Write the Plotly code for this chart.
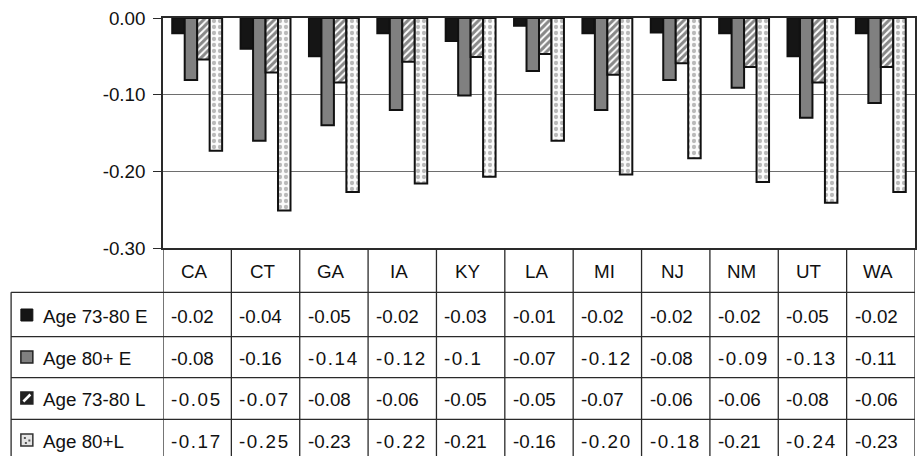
import plotly.graph_objects as go

# ---------------- data ----------------
states = ["CA", "CT", "GA", "IA", "KY", "LA", "MI", "NJ", "NM", "UT", "WA"]
series_names = ["Age 73-80 E", "Age 80+ E", "Age 73-80 L", "Age 80+L"]

age7380_e = [-0.020, -0.040, -0.050, -0.020, -0.030, -0.010, -0.020, -0.019, -0.020, -0.050, -0.020]
age80_e = [-0.081, -0.160, -0.140, -0.120, -0.101, -0.069, -0.120, -0.081, -0.091, -0.130, -0.111]
age7380_l = [-0.054, -0.071, -0.084, -0.057, -0.051, -0.047, -0.074, -0.059, -0.064, -0.084, -0.064]
age80_l = [-0.173, -0.251, -0.227, -0.216, -0.207, -0.160, -0.204, -0.183, -0.214, -0.241, -0.227]

# table text as printed (some cells are letter-spaced in the original)
tbl_7380_e = ["-0.02", "-0.04", "-0.05", "-0.02", "-0.03", "-0.01", "-0.02", "-0.02", "-0.02", "-0.05", "-0.02"]
tbl_80_e = ["-0.08", "-0.16", "-0.14", "-0.12", "-0.1", "-0.07", "-0.12", "-0.08", "-0.09", "-0.13", "-0.11"]
tbl_7380_l = ["-0.05", "-0.07", "-0.08", "-0.06", "-0.05", "-0.05", "-0.07", "-0.06", "-0.06", "-0.08", "-0.06"]
tbl_80_l = ["-0.17", "-0.25", "-0.23", "-0.22", "-0.21", "-0.16", "-0.20", "-0.18", "-0.21", "-0.24", "-0.23"]
spaced_80_e = [2, 3, 4, 6, 8, 9]
spaced_7380_l = [0, 1]
spaced_80_l = [0, 1, 3, 6, 7, 9]

y_tickvals = [0.0, -0.1, -0.2, -0.3]
y_ticktext = ["0.00", "-0.10", "-0.20", "-0.30"]

# ---------------- layout helpers ----------------
W, H = 920, 456
ML, MR, MT, MB = 163, 3, 18, 208
PW, PH = W - ML - MR, H - MT - MB
FONT = "Liberation Sans, Arial, sans-serif"
FS = 18.8
LINE = "#2a2a2a"


def pxx(p):
    return (p - ML) / PW


def pxy(p):
    return (MT + PH - p) / PH


def spaced(s):
    return "\u200a".join(list(s))


fig = go.Figure()

OUT = dict(color="#111", width=2)
fig.add_trace(go.Bar(x=states, y=age7380_e, name=series_names[0],
                     marker=dict(color="#151515", line=OUT)))
fig.add_trace(go.Bar(x=states, y=age80_e, name=series_names[1],
                     marker=dict(color="#808080", line=OUT)))
fig.add_trace(go.Bar(x=states, y=age7380_l, name=series_names[2],
                     marker=dict(color="white", line=OUT,
                                 pattern=dict(shape="/", fgcolor="#111", bgcolor="white",
                                              size=5, solidity=0.6))))
fig.add_trace(go.Bar(x=states, y=age80_l, name=series_names[3],
                     marker=dict(color="white", line=OUT,
                                 pattern=dict(shape=".", fgcolor="#777", bgcolor="#fbfbfb",
                                              size=6, solidity=0.4))))

shapes = []
annotations = []

# table geometry (pixels)
row_lines = [292.3, 336.7, 377.7, 419.3]
row_centers = [316.0, 358.0, 399.0, 441.0]
header_center = 271.0
table_bottom = 462
table_left = 10.7

# vertical column lines below plot
for k in range(len(states) + 1):
    shapes.append(dict(type="line", xref="x", yref="paper", x0=k - 0.5, x1=k - 0.5,
                       y0=pxy(248), y1=pxy(table_bottom), line=dict(color=LINE, width=1.3)))
# left border of legend column
shapes.append(dict(type="line", xref="paper", yref="paper", x0=pxx(table_left), x1=pxx(table_left),
                   y0=pxy(row_lines[0]), y1=pxy(table_bottom), line=dict(color=LINE, width=1.3)))
# horizontal row lines
for r in row_lines:
    shapes.append(dict(type="line", xref="paper", yref="paper", x0=pxx(table_left), x1=1,
                       y0=pxy(r), y1=pxy(r), line=dict(color=LINE, width=1.3)))

# header labels
for i, s in enumerate(states):
    annotations.append(dict(x=i, y=pxy(header_center), xref="x", yref="paper", text=s,
                            showarrow=False, xanchor="center", yanchor="middle",
                            xshift=-3, font=dict(family=FONT, size=FS, color="#111")))

# table values
rows = [(tbl_7380_e, []), (tbl_80_e, spaced_80_e), (tbl_7380_l, spaced_7380_l), (tbl_80_l, spaced_80_l)]
for ri, (vals, sp) in enumerate(rows):
    for i, v in enumerate(vals):
        txt = spaced(v) if i in sp else v
        annotations.append(dict(x=i - 0.5, y=pxy(row_centers[ri]), xref="x", yref="paper", text=txt,
                                showarrow=False, xanchor="left", yanchor="middle", xshift=6,
                                font=dict(family=FONT, size=FS, color="#111")))
    annotations.append(dict(x=pxx(41), y=pxy(row_centers[ri]), xref="paper", yref="paper",
                            text=series_names[ri], showarrow=False, xanchor="left", yanchor="middle",
                            font=dict(family=FONT, size=FS, color="#111")))

# legend keys
for ri in range(4):
    cy = row_centers[ri] - 1
    x0, x1 = 20.5, 32.5
    y0, y1 = cy - 6, cy + 6
    if ri == 0:
        shapes.append(dict(type="rect", xref="paper", yref="paper", x0=pxx(x0), x1=pxx(x1),
                           y0=pxy(y1), y1=pxy(y0), fillcolor="#151515", line=dict(color="#111", width=1)))
    elif ri == 1:
        shapes.append(dict(type="rect", xref="paper", yref="paper", x0=pxx(x0), x1=pxx(x1),
                           y0=pxy(y1), y1=pxy(y0), fillcolor="#808080", line=dict(color="#222", width=1.5)))
    elif ri == 2:
        shapes.append(dict(type="rect", xref="paper", yref="paper", x0=pxx(x0), x1=pxx(x1),
                           y0=pxy(y1), y1=pxy(y0), fillcolor="#222", line=dict(color="#222", width=1.5)))
        shapes.append(dict(type="path", xref="paper", yref="paper",
                           path="M %f,%f L %f,%f" % (pxx(x0 + 2.5), pxy(y1 - 2.5), pxx(x1 - 2.5), pxy(y0 + 2.5)),
                           line=dict(color="white", width=2.5)))
    else:
        shapes.append(dict(type="rect", xref="paper", yref="paper", x0=pxx(x0), x1=pxx(x1),
                           y0=pxy(y1), y1=pxy(y0), fillcolor="#e4e4e4", line=dict(color="#333", width=1.5)))
        for (dx, dy) in [(3, 3), (7.5, 5.5), (4, 8)]:
            shapes.append(dict(type="rect", xref="paper", yref="paper",
                               x0=pxx(x0 + dx), x1=pxx(x0 + dx + 2), y0=pxy(y0 + dy + 2), y1=pxy(y0 + dy),
                               fillcolor="#555", line=dict(width=0)))

fig.update_layout(
    width=W, height=H,
    margin=dict(l=ML, r=MR, t=MT, b=MB),
    paper_bgcolor="white", plot_bgcolor="white",
    barmode="group", bargap=0.27, bargroupgap=0,
    showlegend=False,
    font=dict(family=FONT, size=FS, color="#111"),
    shapes=shapes, annotations=annotations,
)
fig.update_xaxes(range=[-0.5, len(states) - 0.5], showticklabels=False, ticks="",
                 showline=True, linecolor=LINE, linewidth=1.6, mirror=True, showgrid=False)
fig.update_yaxes(range=[-0.3, 0], tickvals=y_tickvals, ticktext=y_ticktext,
                 ticks="outside", ticklen=8, tickcolor=LINE, tickwidth=1.2,
                 ticklabelstandoff=4,
                 tickfont=dict(family=FONT, size=FS, color="#111"),
                 showline=True, linecolor=LINE, linewidth=1.5, mirror=True,
                 showgrid=True, gridcolor="#6e6e6e", gridwidth=1, zeroline=False)

fig.write_html("out.html")
